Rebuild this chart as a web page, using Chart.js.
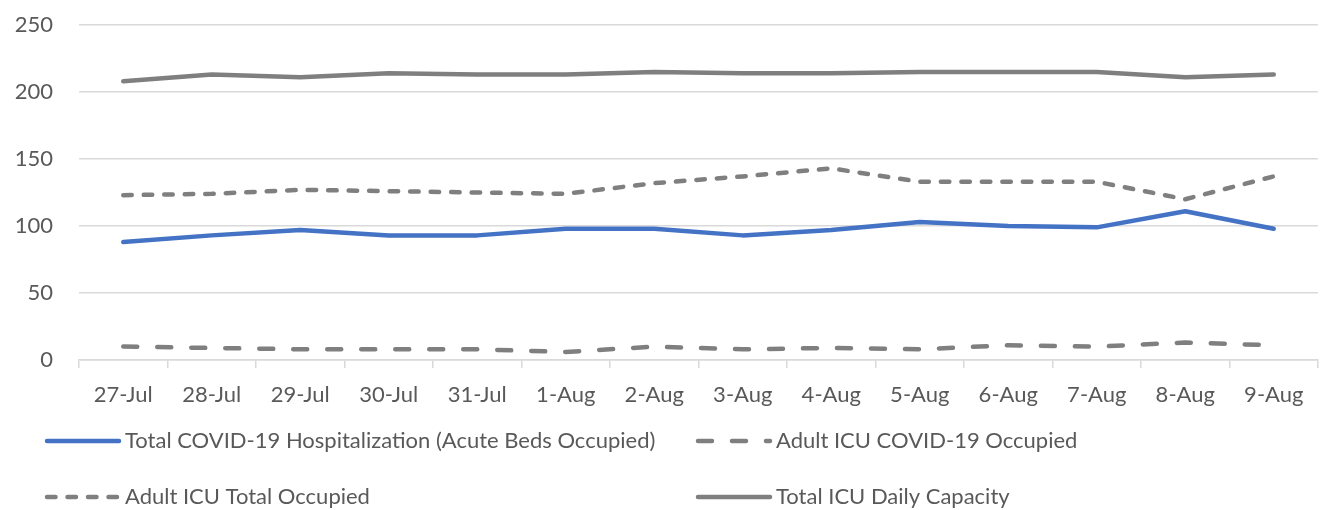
<!DOCTYPE html>
<html>
<head>
<meta charset="utf-8">
<script src="https://cdn.jsdelivr.net/npm/chart.js"></script>
<style>
  html, body { margin: 0; padding: 0; background: #fff; }
  #wrap { width: 1320px; height: 510px; position: relative; }
</style>
</head>
<body>
<div id="wrap"><canvas id="lineChart"></canvas></div>
<script>
// data
const days = ['27-Jul', '28-Jul', '29-Jul', '30-Jul', '31-Jul', '1-Aug', '2-Aug',
              '3-Aug', '4-Aug', '5-Aug', '6-Aug', '7-Aug', '8-Aug', '9-Aug'];
const totalHospitalized = [88, 93, 97, 93, 93, 98, 98, 93, 97, 103, 100, 99, 111, 98];
const icuCovidOccupied = [10, 9, 8, 8, 8, 6, 10, 8, 9, 8, 11, 10, 13, 11];
const icuTotalOccupied = [123, 124, 127, 126, 125, 124, 132, 137, 143, 133, 133, 133, 120, 137];
const icuCapacity = [208, 213, 211, 214, 213, 213, 215, 214, 214, 215, 215, 215, 211, 213];
const yTicks = [0, 50, 100, 150, 200, 250];

const FONT = 'Lato, "Open Sans", sans-serif';
const TEXT = '#595959';
const GRID = '#d9d9d9';

function line(label, data, color, dash) {
    return {
        label: label,
        data: data,
        borderColor: color,
        backgroundColor: color,
        borderWidth: 4.5,
        borderDash: dash,
        borderCapStyle: 'round',
        borderJoinStyle: 'round',
        pointRadius: 0,
        tension: 0,
        fill: false
    };
}

// legend laid out like the excel one: two columns, two rows
const gridLegend = {
    id: 'gridLegend',
    afterDraw(chart) {
        const c = chart.ctx;
        const slots = [[47, 441], [698, 441], [47, 497], [698, 497]];
        chart.data.datasets.forEach((ds, i) => {
            const [x, y] = slots[i];
            c.save();
            c.strokeStyle = ds.borderColor;
            c.lineWidth = ds.borderWidth;
            c.lineCap = 'round';
            c.setLineDash(ds.borderDash || []);
            c.beginPath();
            c.moveTo(x, y);
            c.lineTo(x + 72, y);
            c.stroke();
            c.restore();

            c.save();
            c.fillStyle = TEXT;
            c.font = '22px ' + FONT;
            c.textBaseline = 'middle';
            c.fillText(ds.label, x + 78, y);
            c.restore();
        });
    }
};

const ctx = document.getElementById('lineChart').getContext('2d');
const chart = new Chart(ctx, {
    type: 'line',
    plugins: [gridLegend],
    data: {
        labels: days,
        datasets: [
            line('Total COVID-19 Hospitalization (Acute Beds Occupied)', totalHospitalized, '#4472c4', []),
            line('Adult ICU COVID-19 Occupied', icuCovidOccupied, '#7f7f7f', [14, 20]),
            line('Adult ICU Total Occupied', icuTotalOccupied, '#7f7f7f', [8.5, 12]),
            line('Total ICU Daily Capacity', icuCapacity, '#7f7f7f', [])
        ]
    },
    options: {
        responsive: true,
        maintainAspectRatio: false,
        animation: false,
        layout: { padding: { top: 25, right: 2, bottom: 100, left: 0 } },
        plugins: {
            legend: { display: false },
            tooltip: { enabled: false }
        },
        scales: {
            x: {
                offset: true,
                afterFit(scale) { scale.height = 50; },
                grid: {
                    offset: true,
                    drawOnChartArea: false,
                    drawTicks: true,
                    tickLength: 8,
                    color: GRID,
                    lineWidth: 1.5
                },
                border: { display: true, color: GRID, width: 1.5 },
                ticks: {
                    color: TEXT,
                    font: { family: FONT, size: 22 },
                    padding: 14,
                    maxRotation: 0,
                    autoSkip: false
                }
            },
            y: {
                min: 0,
                max: 250,
                afterBuildTicks(scale) {
                    scale.ticks = yTicks.map(v => ({ value: v }));
                },
                afterFit(scale) {
                    scale.width = 79;
                    scale.paddingTop = 0;
                    scale.paddingBottom = 0;
                },
                grid: { color: GRID, lineWidth: 1.5, drawTicks: false },
                border: { display: false },
                ticks: {
                    color: TEXT,
                    font: { family: FONT, size: 22 },
                    padding: 26
                }
            }
        }
    }
});
</script>
</body>
</html>
